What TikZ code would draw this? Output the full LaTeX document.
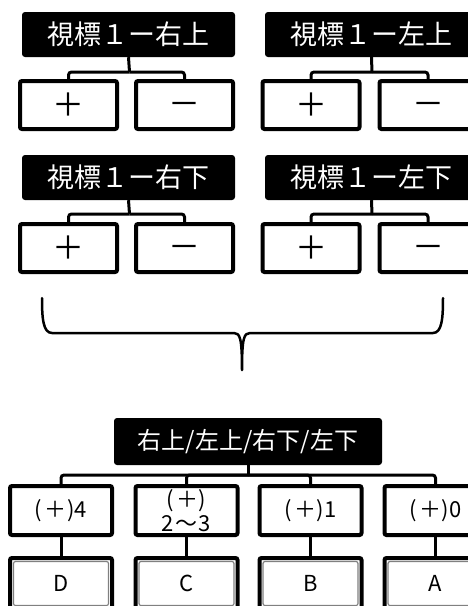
\documentclass[tikz,border=0pt]{standalone}
\usepackage{fontspec}
\newfontfamily\jp{Noto Sans CJK JP}
\usetikzlibrary{calc}
\newcommand{\pp}{(\kern2.5pt＋\kern0.5pt)}
\newcommand{\mn}{\raisebox{-10pt}[0pt][0pt]{－}}
\begin{document}
\begin{tikzpicture}[x=1pt,y=-1pt,
 hdr/.style={fill=black, text=white, rounded corners=3pt, inner sep=0pt, font=\jp\fontsize{27}{30}\selectfont, minimum width=213pt, minimum height=45pt},
 hdrb/.style={hdr, minimum width=268pt, minimum height=47pt, font=\jp\fontsize{24}{26}\selectfont},
 pm/.style={draw=black, line width=4pt, rounded corners=2pt, fill=white, inner sep=0pt, minimum width=97pt, minimum height=48pt, font=\jp\fontsize{32}{34}\selectfont},
 lv/.style={draw=black, line width=4pt, rounded corners=2pt, inner sep=0pt, minimum width=102pt, minimum height=49pt, align=center, font=\jp\fontsize{22}{26}\selectfont},
 lvtwo/.style={lv, minimum height=51pt, path picture={\draw[gray, line width=1.2pt] ([shift={(3.5pt,3.5pt)}]path picture bounding box.south west) rectangle ([shift={(-3.5pt,-3.5pt)}]path picture bounding box.north east);}},
 conn/.style={line width=3pt, rounded corners=3pt},
 bracestyle/.style={line width=2.5pt, line cap=round, line join=round}]
\useasboundingbox (0,0) rectangle (468,606);
\clip (0,0) rectangle (468,606);

% ---------- top groups ----------
\node[hdr] (h1) at (128.5,34.5) {視標１ー右上};
\node[pm] (p1) at (68.5,105) {＋};
\node[pm] (m1) at (184.5,105) {\mn};
\coordinate (j1) at (129.5,72);
\draw[conn] (h1.south) -- (j1);
\draw[conn] (j1) -| (p1.north);
\draw[conn] (j1) -| (m1.north);

\node[hdr] (h2) at (371.5,34.5) {視標１ー左上};
\node[pm] (p2) at (311,105) {＋};
\node[pm] (m2) at (428,105) {\mn};
\coordinate (j2) at (372,72);
\draw[conn] (h2.south) -- (j2);
\draw[conn] (j2) -| (p2.north);
\draw[conn] (j2) -| (m2.north);

\node[hdr] (h3) at (128.5,177.5) {視標１ー右下};
\node[pm] (p3) at (68.5,248) {＋};
\node[pm] (m3) at (184.5,248) {\mn};
\coordinate (j3) at (129.5,214);
\draw[conn] (h3.south) -- (j3);
\draw[conn] (j3) -| (p3.north);
\draw[conn] (j3) -| (m3.north);

\node[hdr] (h4) at (371.5,177.5) {視標１ー左下};
\node[pm] (p4) at (311,248) {＋};
\node[pm] (m4) at (428,248) {\mn};
\coordinate (j4) at (372,214);
\draw[conn] (h4.south) -- (j4);
\draw[conn] (j4) -| (p4.north);
\draw[conn] (j4) -| (m4.north);

% ---------- brace ----------
\draw[bracestyle] (42,298) .. controls (42,318) and (43,333) .. (52,333)
  -- (234,333) .. controls (240,333) and (242,338) .. (242,370)
  .. controls (242,338) and (244,333) .. (250,333)
  -- (433,333) .. controls (442,333) and (443,318) .. (443,298);

% ---------- bottom tree ----------
\node[hdr, hdrb] (hb) at (248,441.5) {右上/左上/右下/左下};
\node[lv] (a1) at (61,510.5) {\pp 4};
\node[lv] (a2) at (186.5,510.5) {\pp\\[-2pt]2\kern1.5pt〜\kern1.5pt3};
\node[lv] (a3) at (310.5,510.5) {\pp 1};
\node[lv] (a4) at (435.5,510.5) {\pp 0};
\coordinate (jb) at (248,475);
\draw[conn] (hb.south) -- (jb);
\draw[conn] (jb) -| (a1.north);
\draw[conn] (jb) -| (a2.north);
\draw[conn] (jb) -| (a3.north);
\draw[conn] (jb) -| (a4.north);

\node[lvtwo] (b1) at (61,583.5) {D};
\node[lvtwo] (b2) at (186.5,583.5) {C};
\node[lvtwo] (b3) at (310.5,583.5) {B};
\node[lvtwo] (b4) at (435.5,583.5) {A};
\draw[conn] (a1.south) -- (b1.north);
\draw[conn] (a2.south) -- (b2.north);
\draw[conn] (a3.south) -- (b3.north);
\draw[conn] (a4.south) -- (b4.north);
\end{tikzpicture}
\end{document}
